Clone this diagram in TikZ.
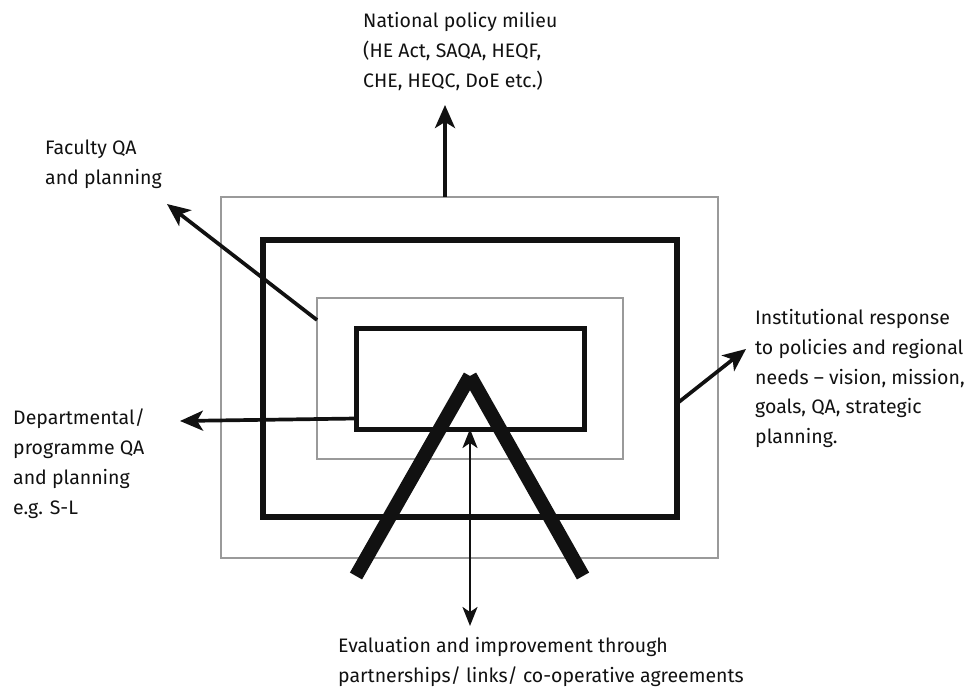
\documentclass[tikz,border=0pt]{standalone}
\usepackage{fontspec}
\setmainfont{Fira Sans}
\usetikzlibrary{arrows.meta,calc}
\definecolor{framegrey}{HTML}{9A9A9A}
\definecolor{inkblack}{HTML}{111111}
\begin{document}
\begin{tikzpicture}[x=1pt,y=-1pt,
  greybox/.style={draw=framegrey,line width=2pt,inner sep=0pt,outer sep=0pt},
  blackbox/.style={draw=inkblack,line width=#1,inner sep=0pt,outer sep=0pt},
  label/.style={anchor=north west,align=left,inner sep=0pt,text=inkblack,
    font=\fontsize{19.5}{29.8}\selectfont},
  outarrow/.style={draw=inkblack,line width=3.7pt,
    -{Stealth[length=23pt,width=20pt,inset=6pt]}},
  linkarrow/.style={draw=inkblack,line width=2.6pt,
    {Stealth[length=19pt,width=15pt,inset=5pt]}-{Stealth[length=19pt,width=15pt,inset=5pt]}},
  leg/.style={draw=inkblack,line width=14pt,line cap=butt}]
\useasboundingbox (0,0) rectangle (973,692);

% nested frames
\node[greybox,minimum width=497pt,minimum height=361pt] (outer) at (469.5,377.5) {};
\node[blackbox=6pt,minimum width=414pt,minimum height=277pt] (big) at (470,378.5) {};
\node[greybox,minimum width=306pt,minimum height=161pt] (ig) at (470,378.5) {};
\node[blackbox=5pt,minimum width=228pt,minimum height=101pt] (ib) at (470,378.5) {};

% the two legs meeting at the apex
\coordinate (apex) at (470,376);
\coordinate (footL) at (356,576);
\coordinate (footR) at (583,576);
\draw[leg] (apex) -- (footL);
\draw[leg] (apex) -- (footR);

% labels
\node[label] (national) at (363,12) {National policy milieu\\(HE Act, SAQA, HEQF,\\CHE, HEQC, DoE etc.)};
\node[label] (faculty) at (45,140) {Faculty QA\\and planning};
\node[label] (inst) at (755,309) {Institutional response\\to policies and regional\\needs -- vision, mission,\\goals, QA, strategic\\planning.};
\node[label] (dept) at (13,409) {Departmental/\\programme QA\\and planning\\e.g. S-L};
\node[label] (eval) at (338,637) {Evaluation and improvement through\\partnerships/ links/ co-operative agreements};

% connectors
\coordinate (upTip) at (445,105);
\coordinate (facTip) at (167,204);
\coordinate (deptTip) at (180,421);
\coordinate (instTip) at (746,349);
\coordinate (evalTip) at (470,626);
\draw[outarrow] ($(outer.north)+(-24.5,0)$) -- (upTip);
\draw[outarrow] ($(ig.north west)+(0,22)$) -- (facTip);
\draw[outarrow] ($(ib.west)+(0,40)$) -- (deptTip);
\draw[outarrow] ($(big.east)+(0,25)$) -- (instTip);
\draw[linkarrow] (ib.south) -- (evalTip);
\end{tikzpicture}
\end{document}
